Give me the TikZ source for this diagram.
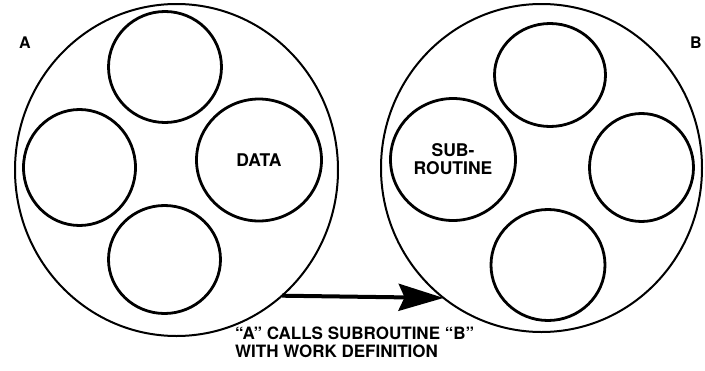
\documentclass[tikz,border=0pt]{standalone}
\usepackage{fontspec}
\setmainfont{TeX Gyre Heros}
\usetikzlibrary{shapes.geometric,arrows.meta}

\begin{document}
\begin{tikzpicture}[x=1pt,y=-1pt,
  outer/.style={draw, ellipse, line width=2pt, inner sep=0pt, outer sep=0pt},
  part/.style={draw, ellipse, line width=2.8pt, inner sep=0pt, outer sep=0pt,
    align=center, font=\fontsize{17.5}{18}\bfseries\selectfont},
  tag/.style={inner sep=0pt, font=\fontsize{16}{16}\bfseries\selectfont},
  call/.style={line width=4pt, -{Stealth[length=45pt,width=27pt,inset=6pt]}}]
\useasboundingbox (0,0) rectangle (705,370);

% module A and its parts
\node[outer, minimum width=323pt, minimum height=332pt] (A) at (176.5,170) {};
\node[part, minimum width=113pt, minimum height=111pt] (a1) at (165,67) {};
\node[part, minimum width=112pt, minimum height=116pt] (a2) at (79.5,167.5) {};
\node[part, minimum width=125pt, minimum height=122pt] (a3) at (259,160) {DATA};
\node[part, minimum width=112pt, minimum height=108pt] (a4) at (164.5,259.5) {};
\node[tag] (la) at (25,42.5) {A};

% module B and its parts
\node[outer, minimum width=321pt, minimum height=328pt] (B) at (541.5,168) {};
\node[part, minimum width=111pt, minimum height=103pt] (b1) at (550,75) {};
\node[part, minimum width=125pt, minimum height=122pt] (b2) at (453,159.5) {SUB-\\ROUTINE};
\node[part, minimum width=104pt, minimum height=108pt] (b3) at (641.5,167.5) {};
\node[part, minimum width=114pt, minimum height=111pt] (b4) at (548,265) {};
\node[tag] (lb) at (696,42.5) {B};

% the call from A to B
\draw[call] (A.-50.8) -- (B.-127.4);
\node[anchor=north west, inner sep=0pt, align=left,
      font=\fontsize{17}{17.5}\bfseries\selectfont] (cap) at (235,327)
  {“A” CALLS SUBROUTINE “B”\\WITH WORK DEFINITION};
\end{tikzpicture}
\end{document}
